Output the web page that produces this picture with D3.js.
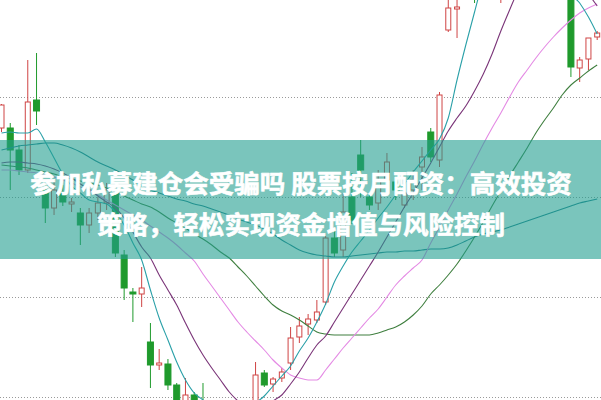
<!DOCTYPE html>
<html><head><meta charset="utf-8">
<script src="https://cdn.jsdelivr.net/npm/d3@7"></script>
<style>html,body{margin:0;padding:0;background:#fff;}svg{display:block;}</style>
</head><body>
<svg id="chart" width="601" height="400"></svg>
<script>
// ---- data (unlabeled price units) ----
const days = d3.range(69);
const open  = [12.69,12.69,12.47,12.27,12.97,12.07,11.89,12.05,11.93,11.84,11.72,11.84,11.94,12.04,11.42,11.05,11.03,10.55,10.32,10.33,10.12,9.95,10.02,9.95,9.82,9.65,9.72,9.59,9.77,9.89,10.24,10.13,10.19,10.34,10.60,10.73,10.77,10.95,11.59,11.47,12.00,12.42,12.00,11.94,12.17,12.15,11.92,12.07,12.30,12.65,12.37,13.67,13.88,14.07,14.37,14.27,14.52,14.37,14.67,14.97,14.87,15.12,15.02,15.22,14.87,14.37,13.29,13.38,13.60];
const high  = [12.93,12.74,12.52,13.37,13.44,12.12,12.17,12.12,11.99,11.89,11.89,12.00,12.14,12.07,11.47,11.09,11.30,10.74,10.48,10.38,10.14,10.19,10.05,10.14,9.87,9.85,9.79,9.87,9.96,10.35,10.27,10.20,10.29,10.70,10.80,10.83,10.97,11.61,11.67,12.04,12.24,12.57,12.05,12.27,12.44,12.20,12.09,12.27,12.50,12.69,13.05,14.02,14.00,14.37,14.47,14.67,14.87,14.82,15.02,15.07,15.27,15.22,15.37,15.32,14.97,14.57,13.40,13.59,13.66];
const low   = [12.65,12.07,12.22,12.24,12.72,11.74,11.82,11.91,11.85,11.52,11.64,11.77,11.87,11.40,10.97,10.75,10.90,10.09,10.27,10.07,9.85,9.89,9.82,9.72,9.57,9.57,9.49,9.52,9.69,9.85,10.10,10.05,10.15,10.27,10.54,10.62,10.74,10.92,11.40,11.40,11.73,12.00,11.87,11.87,12.10,11.97,11.89,11.97,12.07,12.35,12.30,13.65,13.59,14.02,13.94,14.22,14.47,13.94,14.62,14.67,14.82,14.82,14.97,14.77,14.37,13.20,13.15,13.27,13.57];
const close = [12.92,12.47,12.27,12.95,12.86,11.89,12.07,11.95,11.95,11.72,11.84,11.94,12.07,11.44,11.09,11.03,11.09,10.32,10.34,10.12,9.92,10.02,9.87,9.79,9.67,9.77,9.57,9.82,9.92,10.22,10.12,10.18,10.25,10.59,10.71,10.78,10.85,11.59,11.44,11.85,11.77,12.27,11.92,12.17,12.35,12.07,12.04,12.17,12.40,12.40,13.02,13.89,13.90,14.27,14.12,14.57,14.77,14.67,14.92,14.72,15.17,14.92,15.27,14.87,14.47,13.30,13.37,13.59,13.64];

const ma5  = [12.64,12.65,12.64,12.64,12.68,12.55,12.39,12.23,12.11,12.04,11.97,11.95,11.93,11.85,11.72,11.54,11.37,11.07,10.79,10.57,10.35,10.17,10.04,9.97,9.89,9.85,9.83,9.82,9.87,9.94,10.01,10.11,10.21,10.31,10.46,10.59,10.75,10.93,11.15,11.31,11.45,11.56,11.67,11.79,11.90,12.02,12.13,12.25,12.36,12.47,12.58,12.79,13.17,13.52,13.85,14.17,14.37,14.52,14.67,14.77,14.87,14.92,14.87,14.72,14.37,14.05,13.94,13.80,13.63];
const ma10 = [12.34,12.35,12.35,12.34,12.33,12.31,12.28,12.24,12.19,12.13,12.08,12.01,11.95,11.89,11.79,11.65,11.50,11.39,11.22,11.07,10.92,10.74,10.57,10.42,10.29,10.17,10.05,9.96,9.90,9.87,9.89,9.96,10.02,10.13,10.25,10.39,10.52,10.61,10.75,10.89,11.03,11.17,11.31,11.45,11.60,11.75,11.90,12.04,12.19,12.34,12.50,12.66,12.79,12.91,13.06,13.23,13.43,13.66,13.87,14.07,14.22,14.35,14.42,14.42,14.37,14.27,14.15,14.03,13.91];
const ma20 = [12.27,12.27,12.26,12.25,12.24,12.22,12.20,12.17,12.14,12.10,12.06,12.02,11.97,11.92,11.87,11.82,11.77,11.71,11.65,11.59,11.52,11.44,11.36,11.23,11.11,10.99,10.87,10.75,10.65,10.56,10.47,10.37,10.29,10.22,10.19,10.17,10.17,10.27,10.38,10.49,10.59,10.69,10.79,10.88,11.00,11.12,11.21,11.29,11.37,11.54,11.70,11.87,12.03,12.20,12.36,12.53,12.69,12.84,13.00,13.15,13.27,13.39,13.50,13.60,13.69,13.77,13.84,13.89,13.93];
const ma60 = [12.32,12.31,12.30,12.29,12.27,12.25,12.23,12.20,12.18,12.16,12.14,12.12,12.09,12.05,12.01,11.97,11.93,11.90,11.85,11.79,11.74,11.69,11.63,11.58,11.52,11.45,11.39,11.30,11.21,11.11,11.01,10.92,10.86,10.82,10.77,10.71,10.65,10.63,10.62,10.62,10.62,10.62,10.62,10.64,10.67,10.70,10.75,10.82,10.91,11.03,11.12,11.22,11.33,11.46,11.60,11.75,11.91,12.06,12.21,12.35,12.49,12.64,12.77,12.89,13.02,13.12,13.19,13.26,13.32];
const ma120 = [12.47,12.49,12.51,12.52,12.53,12.54,12.54,12.52,12.49,12.45,12.40,12.35,12.31,12.27,12.22,12.17,12.12,12.07,12.04,12.01,11.98,11.96,11.93,11.91,11.88,11.85,11.82,11.78,11.75,11.72,11.68,11.63,11.57,11.52,11.47,11.44,11.42,11.41,11.40,11.40,11.41,11.42,11.43,11.44,11.45,11.45,11.46,11.46,11.47,11.48,11.48,11.49,11.52,11.56,11.60,11.63,11.65,11.67,11.70,11.73,11.76,11.79,11.82,11.85,11.88,11.91,11.94,11.96,11.98];

const gridLevels = [13, 12, 11, 10];
const titleLines = ["参加私募建仓会受骗吗 股票按月配资：高效投资", "策略，轻松实现资金增值与风险控制"];

// ---- drawing ----
const W = 601, H = 400;
const svg = d3.select("#chart");
const x = d3.scaleLinear().domain([0, 68]).range([1.5, 597.2]);
const y = d3.scaleLinear().domain([10, 13]).range([397, 97]);

const RED = "#cf4444", GREEN = "#1f9a2c";

// grid
svg.append("g").selectAll("line").data(gridLevels).join("line")
  .attr("x1", 0).attr("x2", W)
  .attr("y1", d => Math.round(y(d)) + 0.5).attr("y2", d => Math.round(y(d)) + 0.5)
  .attr("stroke", "#9a9a9a").attr("stroke-width", 1).attr("stroke-dasharray", "1,2");

const candles = days.map(i => ({i, o: open[i], h: high[i], l: low[i], c: close[i], up: close[i] >= open[i]}));
const cg = svg.append("g");
const bw = 6;
cg.selectAll("line.wick").data(candles).join("line").attr("class", "wick")
  .attr("x1", d => x(d.i)).attr("x2", d => x(d.i))
  .attr("y1", d => y(d.h)).attr("y2", d => y(d.l))
  .attr("stroke", d => d.up ? RED : GREEN).attr("stroke-width", 1);
cg.selectAll("rect.body").data(candles).join("rect").attr("class", "body")
  .attr("x", d => d.up ? x(d.i) - bw / 2 + 0.5 : x(d.i) - bw / 2)
  .attr("width", d => d.up ? bw - 1 : bw)
  .attr("y", d => y(Math.max(d.o, d.c)))
  .attr("height", d => Math.max(1, Math.abs(y(d.o) - y(d.c))))
  .attr("fill", d => d.up ? "#ffffff" : GREEN)
  .attr("stroke", d => d.up ? RED : GREEN).attr("stroke-width", 1);

// moving averages
const line = d3.line().x((d, i) => x(i)).y(d => y(d)).curve(d3.curveMonotoneX);
const series = [
  {v: ma120, c: "#23808f"},
  {v: ma60, c: "#3f7f3f"},
  {v: ma20, c: "#e48ae4"},
  {v: ma10, c: "#7a3478"},
  {v: ma5, c: "#2aa0a8"}
];
svg.append("g").selectAll("path").data(series).join("path")
  .attr("d", d => line(d.v)).attr("fill", "none")
  .attr("stroke", d => d.c).attr("stroke-width", 1.1);

// banner
svg.append("rect").attr("x", 0).attr("y", 140).attr("width", W).attr("height", 119)
  .attr("fill", "rgb(33,158,143)").attr("fill-opacity", 0.6);
svg.append("g").selectAll("text").data(titleLines).join("text")
  .attr("x", 301).attr("y", (d, i) => 181 + i * 41)
  .attr("text-anchor", "middle").attr("dominant-baseline", "central")
  .attr("font-family", "'Noto Sans CJK SC', 'Noto Sans', sans-serif")
  .attr("font-weight", 700).attr("font-size", 25.5).attr("fill", "#ffffff")
  .attr("stroke", "#ffffff").attr("stroke-width", 0.6).attr("stroke-linejoin", "round")
  .text(d => d);
</script>
</body></html>
